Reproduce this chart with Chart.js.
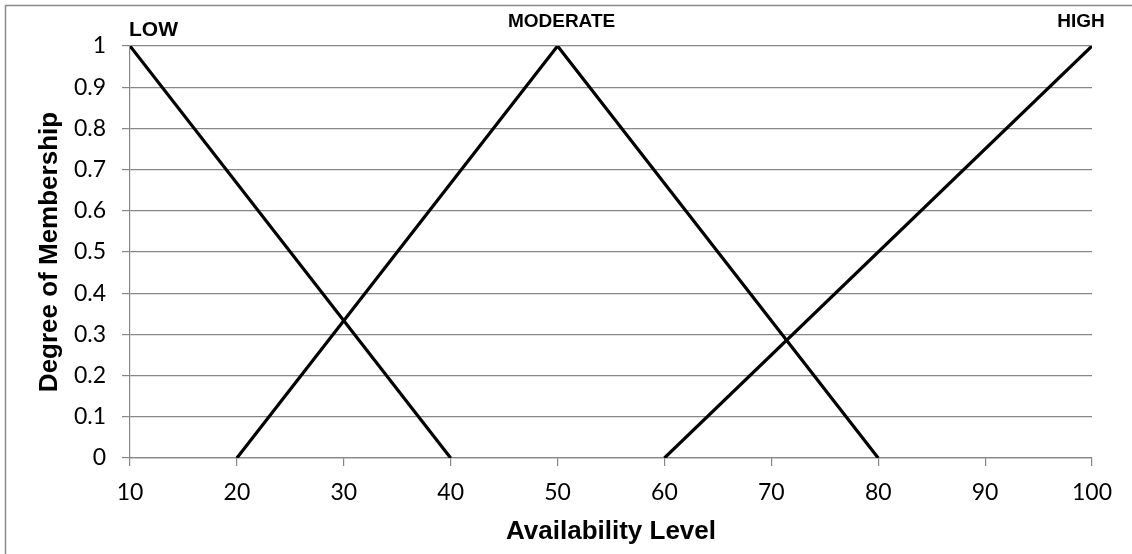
<!DOCTYPE html>
<html>
<head>
<meta charset="utf-8">
<script src="https://cdn.jsdelivr.net/npm/chart.js@4.4.1/dist/chart.umd.min.js"></script>
<style>
  html, body { margin: 0; padding: 0; background: #fff; }
  #wrap { width: 1132px; height: 554px; position: relative; }
</style>
</head>
<body>
<div id="wrap"><canvas id="c" width="1132" height="554"></canvas></div>
<script>
// ---- data ----
const setNames = ['LOW', 'MODERATE', 'HIGH'];
const lowX = [10, 40];
const lowY = [1, 0];
const modX = [20, 50, 80];
const modY = [0, 1, 0];
const highX = [60, 100];
const highY = [0, 1];
const labelAnchorX = [10, 50, 100];
const xTitle = 'Availability Level';
const yTitle = 'Degree of Membership';

function pts(xs, ys) { return xs.map((x, i) => ({ x: x, y: ys[i] })); }

const lineStyle = { borderColor: '#000', borderWidth: 3.2, pointRadius: 0, showLine: true, fill: false, tension: 0 };

const frame = {
  id: 'frame',
  beforeDraw(chart) {
    const ctx = chart.ctx;
    ctx.save();
    ctx.fillStyle = '#fff';
    ctx.fillRect(0, 0, chart.width, chart.height);
    ctx.strokeStyle = '#8c8c8c';
    ctx.lineWidth = 1.5;
    ctx.beginPath();
    ctx.moveTo(5.5, chart.height);
    ctx.lineTo(5.5, 5.5);
    ctx.lineTo(chart.width, 5.5);
    ctx.stroke();
    ctx.restore();
  }
};

const setLabels = {
  id: 'setLabels',
  afterDraw(chart) {
    const ctx = chart.ctx;
    const xs = chart.scales.x;
    ctx.save();
    ctx.fillStyle = '#000';
    ctx.textBaseline = 'alphabetic';
    ctx.font = 'bold 21px "Liberation Sans", Arial, sans-serif';
    ctx.textAlign = 'left';
    ctx.fillText(setNames[0], xs.getPixelForValue(labelAnchorX[0]) - 1, 36);
    ctx.font = 'bold 19px "Liberation Sans", Arial, sans-serif';
    ctx.textAlign = 'center';
    ctx.fillText(setNames[1], xs.getPixelForValue(labelAnchorX[1]) + 4, 27);
    ctx.fillText(setNames[2], xs.getPixelForValue(labelAnchorX[2]) - 11, 27);
    ctx.restore();
  }
};

new Chart(document.getElementById('c'), {
  type: 'scatter',
  data: {
    datasets: [
      Object.assign({ label: setNames[0], data: pts(lowX, lowY) }, lineStyle),
      Object.assign({ label: setNames[1], data: pts(modX, modY) }, lineStyle),
      Object.assign({ label: setNames[2], data: pts(highX, highY) }, lineStyle)
    ]
  },
  options: {
    responsive: false,
    animation: false,
    layout: { padding: { left: 0, top: 46, right: 40, bottom: 0 } },
    plugins: { legend: { display: false }, tooltip: { enabled: false } },
    scales: {
      x: {
        type: 'linear',
        min: 10, max: 100,
        afterFit(s) { s.height = 96; },
        ticks: { stepSize: 10, padding: 13, color: '#000', font: { family: 'Lato', size: 23 }, maxRotation: 0 },
        grid: { drawOnChartArea: false, drawTicks: true, tickLength: 8, color: '#878787', lineWidth: 1.2 },
        border: { display: true, color: '#878787', width: 1.2 },
        title: { display: true, text: xTitle, color: '#000', font: { family: 'Liberation Sans', size: 26, weight: 'bold' }, padding: { top: 0, bottom: 7 } }
      },
      y: {
        min: 0, max: 1,
        afterFit(s) { s.width = 130; },
        ticks: { stepSize: 0.1, padding: 16, color: '#000', font: { family: 'Lato', size: 23 },
          callback: v => String(Math.round(v * 10) / 10) },
        grid: { drawOnChartArea: true, drawTicks: true, tickLength: 8, color: '#878787', lineWidth: 1.2 },
        border: { display: true, color: '#878787', width: 1.2 },
        title: { display: true, text: yTitle, color: '#000', font: { family: 'Liberation Sans', size: 26, weight: 'bold' }, padding: { top: 34, bottom: 0 } }
      }
    }
  },
  plugins: [frame, setLabels]
});
</script>
</body>
</html>
